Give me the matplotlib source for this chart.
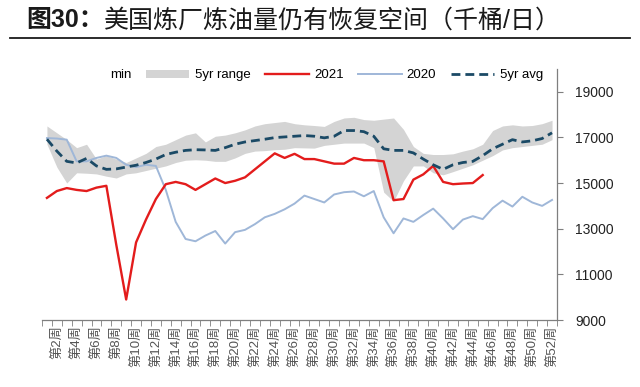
import matplotlib as mpl
mpl.use("Agg")
import matplotlib.pyplot as plt
from matplotlib.lines import Line2D
from matplotlib.patches import Patch

plt.rcParams["font.family"] = ["Liberation Sans", "Noto Sans CJK SC", "DejaVu Sans"]

# weekly data (thousand barrels / day)
weeks = list(range(1, 53))
tick_weeks = list(range(2, 53, 2))
tick_labels = [f"第{w}周" for w in tick_weeks]

range_upper = [17500, 17200, 16900, 16550, 16700, 16050, 16200, 16050, 15900, 16100,
               16300, 16600, 16700, 16900, 17100, 17200, 16800, 17050, 17100, 17200,
               17330, 17500, 17600, 17650, 17700, 17600, 17550, 17520, 17480, 17700,
               17850, 17880, 17780, 17750, 17800, 17850, 17350, 16600, 16300, 16250,
               16250, 16280, 16400, 16500, 16700, 17300, 17500, 17550, 17500, 17520,
               17600, 17750]
range_lower = [16700, 15700, 15000, 15450, 15430, 15400, 15300, 15220, 15400, 15450,
               15550, 15650, 15750, 15900, 16000, 16020, 16000, 15950, 15950, 16100,
               16300, 16400, 16420, 16460, 16480, 16550, 16540, 16530, 16650, 16700,
               16750, 16750, 16750, 16550, 14600, 14200, 15100, 15750, 15750, 15450,
               15360, 15500, 15650, 15800, 16000, 16200, 16450, 16550, 16600, 16650,
               16700, 16900]
avg_5yr = [16920, 16400, 15950, 15880, 16080, 15750, 15600, 15620, 15700, 15780,
           15900, 16050, 16250, 16350, 16430, 16460, 16450, 16430, 16550, 16700,
           16800, 16860, 16920, 16990, 17020, 17050, 17080, 17050, 16980, 17050,
           17300, 17300, 17250, 17050, 16500, 16430, 16430, 16320, 16050, 15800,
           15600, 15800, 15900, 15950, 16200, 16500, 16700, 16900, 16800, 16850,
           16950, 17200]
y2020 = [16970, 16950, 16900, 15950, 15950, 16100, 16200, 16100, 15800, 15700,
         15800, 15750, 14700, 13300, 12550, 12450, 12700, 12900, 12350, 12850,
         12950, 13200, 13500, 13650, 13850, 14100, 14450, 14300, 14150, 14500,
         14600, 14630, 14420, 14650, 13500, 12800, 13450, 13300, 13600, 13880,
         13450, 12980, 13400, 13550, 13420, 13900, 14230, 13970, 14400, 14150,
         14000, 14260]
weeks_2021 = list(range(1, 46))
y2021 = [14350, 14650, 14780, 14700, 14650, 14800, 14880, 12300, 9900, 12400,
         13400, 14300, 14950, 15050, 14950, 14700, 14950, 15200, 15000, 15100,
         15250, 15600, 15950, 16300, 16100, 16280, 16050, 16050, 15950, 15850,
         15850, 16100, 16000, 16000, 15950, 14250, 14300, 15150, 15380, 15750,
         15050, 14950, 14980, 15000, 15350]

BAND = "#d4d4d4"
RED = "#e31c1c"
BLUE = "#9fb7d8"
AVG = "#1b4a66"

fig = plt.figure(figsize=(6.4, 3.87), dpi=100)
ax = fig.add_axes([0.0656, 0.173, 0.8047, 0.649])

ax.fill_between(weeks, range_lower, range_upper, color=BAND, linewidth=0)
ax.plot(weeks, y2020, color=BLUE, linewidth=1.4)
ax.plot(weeks_2021, y2021, color=RED, linewidth=1.7)
ax.plot(weeks, avg_5yr, color=AVG, linewidth=2.0, dashes=(3.2, 1.8))

ax.set_xlim(0.5, 52.5)
ax.set_ylim(9000, 20000)
ax.set_yticks(range(9000, 20001, 2000))
ax.yaxis.tick_right()
ax.tick_params(axis="y", direction="out", length=4, pad=9, labelsize=10,
               colors="#7f7f7f", labelcolor="#222222")

ax.set_xticks(tick_weeks)
ax.set_xticklabels(tick_labels, rotation=90, fontsize=9.5, color="#555555")
ax.set_xticks([w + 0.5 for w in range(0, 53)], minor=True)
ax.tick_params(axis="x", which="major", length=0, pad=4)
ax.tick_params(axis="x", which="minor", direction="out", length=4, color="#7f7f7f")

for side in ("left", "top"):
    ax.spines[side].set_visible(False)
for side in ("right", "bottom"):
    ax.spines[side].set_color("#7f7f7f")
    ax.spines[side].set_linewidth(0.9)

handles = [
    Patch(facecolor="none", edgecolor="none", label="min"),
    Patch(facecolor=BAND, edgecolor="none", label="5yr range"),
    Line2D([], [], color=RED, linewidth=1.7, label="2021"),
    Line2D([], [], color=BLUE, linewidth=1.4, label="2020"),
    Line2D([], [], color=AVG, linewidth=2.0, dashes=(3.2, 1.8), label="5yr avg"),
]
ax.legend(handles=handles, loc="upper center", bbox_to_anchor=(0.505, 1.045), ncol=5,
          frameon=False, fontsize=9.5, handlelength=3.3, handleheight=0.6,
          columnspacing=1.1, handletextpad=0.4)

# title with bold figure number, then underline
t1 = fig.text(0.041, 0.948, "图30：", fontsize=18, fontweight="bold", va="center",
              color="#1a1a1a")
fig.canvas.draw()
bb = t1.get_window_extent()
fig.text(bb.x1 / fig.bbox.width, 0.948, "美国炼厂炼油量仍有恢复空间（千桶/日）",
         fontsize=18, va="center", color="#1a1a1a")
fig.add_artist(Line2D([0.016, 0.984], [0.902, 0.902], transform=fig.transFigure,
                      color="#1a1a1a", linewidth=1.3))

fig.savefig("out.png", dpi=100)
